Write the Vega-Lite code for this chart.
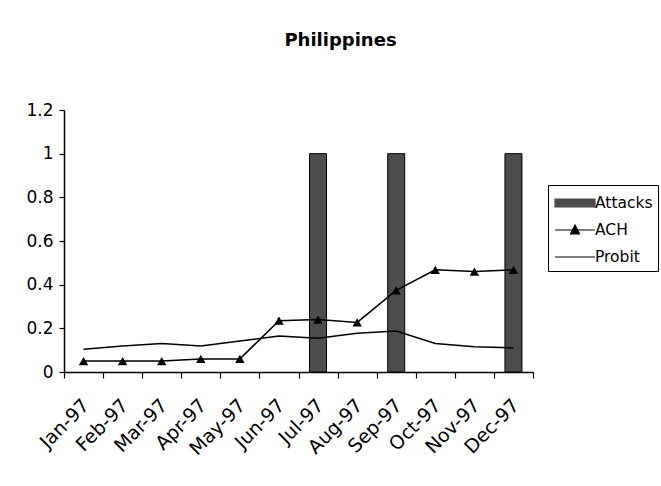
{
  "$schema": "https://vega.github.io/schema/vega-lite/v6.json",
  "width": 469,
  "height": 262,
  "autosize": {"type": "none"},
  "padding": {"left": 64, "top": 110, "right": 128, "bottom": 114},
  "background": "white",
  "title": {
    "text": "Philippines",
    "font": "DejaVu Sans",
    "fontSize": 18,
    "fontWeight": "bold",
    "color": "black",
    "anchor": "middle",
    "dx": 42,
    "offset": 37,
    "baseline": "alphabetic"
  },
  "data": {
    "values": [
      {"month": "Jan-97", "series": "Attacks", "value": 0},
      {"month": "Feb-97", "series": "Attacks", "value": 0},
      {"month": "Mar-97", "series": "Attacks", "value": 0},
      {"month": "Apr-97", "series": "Attacks", "value": 0},
      {"month": "May-97", "series": "Attacks", "value": 0},
      {"month": "Jun-97", "series": "Attacks", "value": 0},
      {"month": "Jul-97", "series": "Attacks", "value": 1},
      {"month": "Aug-97", "series": "Attacks", "value": 0},
      {"month": "Sep-97", "series": "Attacks", "value": 1},
      {"month": "Oct-97", "series": "Attacks", "value": 0},
      {"month": "Nov-97", "series": "Attacks", "value": 0},
      {"month": "Dec-97", "series": "Attacks", "value": 1},
      {"month": "Jan-97", "series": "ACH", "value": 0.05},
      {"month": "Feb-97", "series": "ACH", "value": 0.05},
      {"month": "Mar-97", "series": "ACH", "value": 0.05},
      {"month": "Apr-97", "series": "ACH", "value": 0.06},
      {"month": "May-97", "series": "ACH", "value": 0.06},
      {"month": "Jun-97", "series": "ACH", "value": 0.235},
      {"month": "Jul-97", "series": "ACH", "value": 0.24},
      {"month": "Aug-97", "series": "ACH", "value": 0.227},
      {"month": "Sep-97", "series": "ACH", "value": 0.374},
      {"month": "Oct-97", "series": "ACH", "value": 0.468},
      {"month": "Nov-97", "series": "ACH", "value": 0.46},
      {"month": "Dec-97", "series": "ACH", "value": 0.468},
      {"month": "Jan-97", "series": "Probit", "value": 0.104},
      {"month": "Feb-97", "series": "Probit", "value": 0.119},
      {"month": "Mar-97", "series": "Probit", "value": 0.131},
      {"month": "Apr-97", "series": "Probit", "value": 0.119},
      {"month": "May-97", "series": "Probit", "value": 0.142},
      {"month": "Jun-97", "series": "Probit", "value": 0.165},
      {"month": "Jul-97", "series": "Probit", "value": 0.155},
      {"month": "Aug-97", "series": "Probit", "value": 0.178},
      {"month": "Sep-97", "series": "Probit", "value": 0.188},
      {"month": "Oct-97", "series": "Probit", "value": 0.131},
      {"month": "Nov-97", "series": "Probit", "value": 0.116},
      {"month": "Dec-97", "series": "Probit", "value": 0.11}
    ]
  },
  "encoding": {
    "x": {
      "field": "month",
      "type": "ordinal",
      "scale": {
        "domain": ["Jan-97", "Feb-97", "Mar-97", "Apr-97", "May-97", "Jun-97", "Jul-97", "Aug-97", "Sep-97", "Oct-97", "Nov-97", "Dec-97"],
        "paddingInner": 0,
        "paddingOuter": 0
      },
      "axis": {
        "title": null,
        "labelAngle": -45,
        "labelAlign": "right",
        "labelBaseline": "middle",
        "labelPadding": 24,
        "labelOffset": 2,
        "labelFontSize": 19,
        "tickBand": "extent",
        "tickSize": 6
      }
    },
    "y": {
      "field": "value",
      "type": "quantitative",
      "scale": {"domain": [0, 1.2], "nice": false},
      "axis": {
        "title": null,
        "values": [0, 0.2, 0.4, 0.6, 0.8, 1, 1.2],
        "format": "~g",
        "tickSize": 5,
        "labelPadding": 6,
        "labelFontSize": 17,
        "grid": false
      }
    },
    "color": {
      "field": "series",
      "type": "nominal",
      "scale": {"domain": ["Attacks", "ACH", "Probit"], "range": ["#4d4d4d", "black", "black"]},
      "legend": {
        "title": null,
        "orient": "none",
        "legendX": 484,
        "legendY": 75,
        "strokeColor": "black",
        "fillColor": "white",
        "padding": 5,
        "rowPadding": 5,
        "symbolSize": 576,
        "symbolOffset": 9,
        "symbolStrokeWidth": 1.2,
        "symbolStrokeColor": "black",
        "labelOffset": 7,
        "labelFont": "DejaVu Sans",
        "labelFontSize": 15.5,
        "labelColor": "black",
        "encode": {
          "symbols": {
            "update": {
              "shape": {"signal": "datum.value === 'Attacks' ? 'M-1.667,-0.333H1.667V0.333H-1.667Z' : datum.value === 'ACH' ? 'M-1.667,0H1.667M-0.375,0.333L0,-0.417L0.375,0.333Z' : 'M-1.667,0H1.667'"},
              "fill": {"signal": "datum.value === 'Attacks' ? '#4d4d4d' : datum.value === 'ACH' ? 'black' : 'transparent'"},
              "stroke": {"value": "black"}
            }
          }
        }
      }
    }
  },
  "layer": [
    {
      "transform": [{"filter": "datum.series === 'Attacks' && datum.value > 0"}],
      "mark": {"type": "bar", "size": 17, "stroke": "black", "strokeWidth": 1}
    },
    {
      "transform": [{"filter": "datum.series === 'Probit'"}],
      "mark": {"type": "line", "strokeWidth": 1.5}
    },
    {
      "transform": [{"filter": "datum.series === 'ACH'"}],
      "mark": {
        "type": "line",
        "strokeWidth": 1.5,
        "point": {"shape": "triangle-up", "size": 90, "filled": true, "color": "black"}
      }
    }
  ],
  "config": {
    "view": {"stroke": null},
    "axis": {
      "domainColor": "black",
      "domainWidth": 1.5,
      "tickColor": "black",
      "tickWidth": 1.2,
      "labelFont": "DejaVu Sans",
      "labelColor": "black"
    }
  }
}
